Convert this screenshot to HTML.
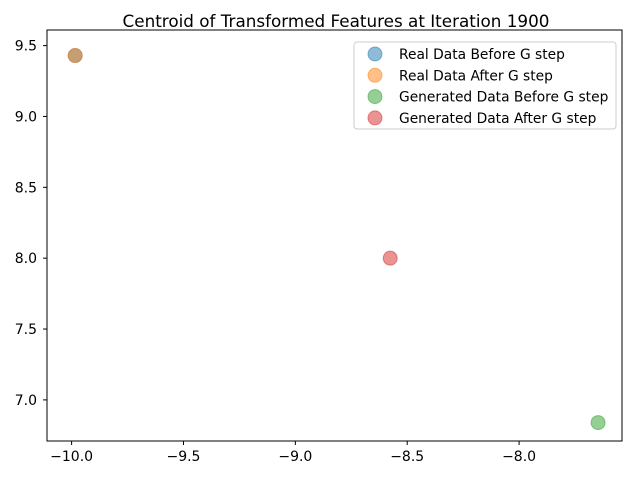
<!DOCTYPE html>
<html><head><meta charset="utf-8"><style>
body{margin:0;background:#fff}
svg{font-family:"DejaVu Sans","Liberation Sans",sans-serif}
</style></head><body>
<svg id="chart" width="640" height="480" xmlns="http://www.w3.org/2000/svg">
<text x="336" y="27" text-anchor="middle" font-size="16.8">Centroid of Transformed Features at Iteration 1900</text>
<g id="ticks"></g>
<g id="marks"></g>
<rect x="47" y="30" width="575" height="411" fill="none" stroke="#000" stroke-width="1"/>
<g id="legend">
<rect x="354" y="42" width="262" height="87" rx="3" fill="#fff" fill-opacity="0.8" stroke="#ccc"/>
</g>
</svg>
<script>
const seriesNames=["Real Data Before G step","Real Data After G step","Generated Data Before G step","Generated Data After G step"];
const xValues=[-9.984,-9.984,-7.647,-8.576];
const yValues=[9.43,9.43,6.84,8.0];
const colors=["#1f77b4","#ff7f0e","#2ca02c","#d62728"];
const xTicks=[-10.0,-9.5,-9.0,-8.5,-8.0];
const yTicks=[7.0,7.5,8.0,8.5,9.0,9.5];
const xTickLabels=["−10.0","−9.5","−9.0","−8.5","−8.0"];
const yTickLabels=["7.0","7.5","8.0","8.5","9.0","9.5"];
const L=47,R=622,T=30,B=441,xmin=-10.11,xmax=-7.54,ymin=6.71,ymax=9.61;
const sx=v=>L+(v-xmin)/(xmax-xmin)*(R-L);
const sy=v=>B-(v-ymin)/(ymax-ymin)*(B-T);
const NS="http://www.w3.org/2000/svg";
function mk(t,a,p){const e=document.createElementNS(NS,t);for(const k in a)e.setAttribute(k,a[k]);p.appendChild(e);return e;}
const tg=document.getElementById('ticks');
xTicks.forEach((v,i)=>{
 const l=mk('line',{x1:sx(v),x2:sx(v),y1:B,y2:B+4,stroke:'#000'},tg);
 
 
 const t=mk('text',{x:sx(v),y:B+20,'text-anchor':'middle','font-size':'14'},tg);
 
 
 t.textContent=xTickLabels[i];
});
yTicks.forEach((v,i)=>{
 const l=mk('line',{x1:L-4,x2:L,y1:sy(v),y2:sy(v),stroke:'#000'},tg);
 
 
 const t=mk('text',{x:L-10,y:sy(v)+5,'text-anchor':'end','font-size':'14'},tg);
 
 
 t.textContent=yTickLabels[i];
});
const mg=document.getElementById('marks');
xValues.forEach((v,i)=>{
 const c=mk('circle',{cx:sx(v),cy:sy(yValues[i]),r:7,fill:colors[i],'fill-opacity':0.5,stroke:colors[i],'stroke-opacity':0.5},mg);
 
 
});
const lg=document.getElementById('legend');
seriesNames.forEach((n,i)=>{
 const y=54+i*21.3;
 const c=mk('circle',{cx:375,cy:y,r:7,fill:colors[i],'fill-opacity':0.5,stroke:colors[i],'stroke-opacity':0.5},lg);
 
 
 const t=mk('text',{x:399,y:y+5,'font-size':'13.8'},lg);
 
 
 t.textContent=n;
});
</script>
</body></html>
